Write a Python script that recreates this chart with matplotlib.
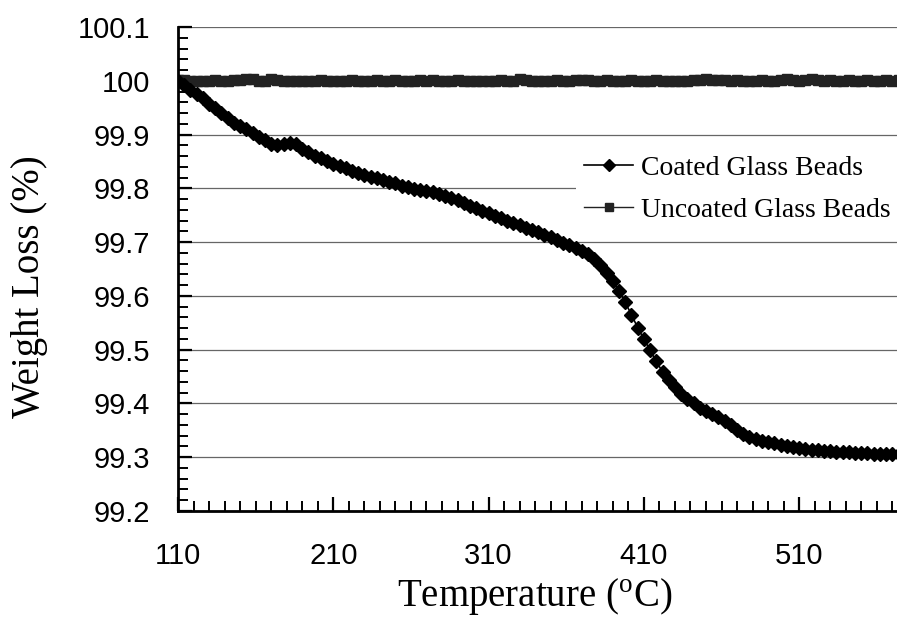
import matplotlib
matplotlib.use("Agg")
import matplotlib.pyplot as plt
from matplotlib.ticker import MultipleLocator, FixedLocator

# ---- data ----
temperature = list(range(110, 578, 4))

coated = [
    100.000, 99.992, 99.983, 99.976, 99.968, 99.957, 99.949, 99.940, 99.930, 99.922,
    99.916, 99.910, 99.903, 99.896, 99.889, 99.882, 99.881, 99.883, 99.884, 99.883,
    99.874, 99.867, 99.861, 99.857, 99.851, 99.845, 99.841, 99.837, 99.832, 99.828,
    99.825, 99.822, 99.819, 99.816, 99.812, 99.809, 99.805, 99.802, 99.799, 99.797,
    99.795, 99.793, 99.790, 99.786, 99.782, 99.778, 99.773, 99.768, 99.763, 99.758,
    99.754, 99.749, 99.744, 99.739, 99.735, 99.731, 99.726, 99.722, 99.718, 99.714,
    99.709, 99.704, 99.699, 99.694, 99.689, 99.684, 99.677, 99.668, 99.657, 99.643,
    99.627, 99.609, 99.588, 99.565, 99.541, 99.520, 99.499, 99.478, 99.459, 99.443,
    99.430, 99.418, 99.408, 99.400, 99.392, 99.386, 99.380, 99.374, 99.368, 99.360,
    99.351, 99.344, 99.338, 99.333, 99.330, 99.328, 99.326, 99.323, 99.321, 99.319,
    99.317, 99.316, 99.314, 99.313, 99.312, 99.311, 99.310, 99.309, 99.309, 99.308,
    99.307, 99.307, 99.306, 99.306, 99.306, 99.306, 99.306,
]

uncoated = [
    100.001, 100.001, 100.000, 100.000, 100.000, 100.000, 100.001, 100.000, 100.000, 100.001,
    100.001, 100.004, 100.003, 100.000, 99.999, 100.004, 100.001, 99.999, 99.999, 100.000,
    100.000, 100.000, 100.000, 100.001, 100.000, 100.000, 99.999, 100.000, 100.001, 100.000,
    100.000, 100.000, 100.001, 100.000, 100.000, 100.001, 100.000, 100.000, 100.000, 100.001,
    100.000, 100.001, 100.000, 100.000, 100.000, 100.001, 100.000, 100.000, 100.000, 100.000,
    100.000, 100.000, 100.001, 100.000, 100.000, 100.003, 100.001, 100.000, 100.000, 100.000,
    100.000, 100.001, 100.000, 100.000, 100.002, 100.001, 100.002, 100.000, 100.000, 100.001,
    100.000, 100.000, 100.000, 100.001, 100.000, 100.000, 100.000, 100.001, 100.000, 100.000,
    100.000, 100.000, 100.000, 100.001, 100.002, 100.003, 100.002, 100.001, 100.002, 100.000,
    100.001, 100.000, 100.000, 100.000, 100.001, 100.000, 100.000, 100.001, 100.003, 100.001,
    100.000, 100.001, 100.003, 100.002, 100.000, 100.001, 100.000, 100.000, 100.001, 100.000,
    100.000, 100.001, 100.000, 100.000, 100.001, 100.000, 100.001,
]

x_major_ticks = [110, 210, 310, 410, 510]
y_ticks = [99.2, 99.3, 99.4, 99.5, 99.6, 99.7, 99.8, 99.9, 100.0, 100.1]
y_tick_labels = ["99.2", "99.3", "99.4", "99.5", "99.6", "99.7", "99.8", "99.9", "100", "100.1"]

plt.rcParams['mathtext.fontset'] = 'custom'
plt.rcParams['mathtext.rm'] = 'Liberation Serif'

W, H = 897, 619
fig = plt.figure(figsize=(W / 100, H / 100), dpi=100)
ax = fig.add_axes([178 / W, 1 - 511 / H, (W - 178) / W, (511 - 27) / H])

ax.plot(temperature, uncoated, color='#222222', lw=1.0, marker='s', markersize=7,
        markerfacecolor='#222222', markeredgecolor='#222222', label='Uncoated Glass Beads', zorder=3)
ax.plot(temperature, coated, color='black', lw=1.2, marker='D', markersize=7.5,
        markerfacecolor='black', markeredgecolor='black', label='Coated Glass Beads', zorder=4)

ax.set_xlim(110, 573)
ax.set_ylim(99.2, 100.1)

ax.xaxis.set_major_locator(FixedLocator(x_major_ticks))
ax.xaxis.set_minor_locator(MultipleLocator(10))
ax.set_yticks(y_ticks)
ax.set_yticklabels(y_tick_labels)
ax.yaxis.set_minor_locator(MultipleLocator(0.02))

for lab in ax.get_xticklabels() + ax.get_yticklabels():
    lab.set_fontfamily('Liberation Sans')
    lab.set_fontsize(21)

ax.tick_params(axis='both', which='major', direction='in', length=10, width=1.6, color='black')
ax.tick_params(axis='both', which='minor', direction='in', length=7, width=1.4, color='black')
ax.tick_params(axis='x', which='major', pad=22)
ax.tick_params(axis='y', which='major', pad=20)

ax.grid(True, axis='y', which='major', color='#666666', lw=0.9)
ax.set_axisbelow(True)

for s in ['top', 'right']:
    ax.spines[s].set_visible(False)
for s in ['left', 'bottom']:
    ax.spines[s].set_linewidth(2.0)
    ax.spines[s].set_color('black')

handles, labels = ax.get_legend_handles_labels()
leg = ax.legend(handles[::-1], labels[::-1], loc='upper left',
                bbox_to_anchor=((562 - 178) / (W - 178), (511 - 133) / 484),
                frameon=True, fancybox=False, framealpha=1.0, edgecolor='white',
                prop={'family': 'Liberation Serif', 'size': 20},
                handlelength=1.75, handletextpad=0.3, labelspacing=0.6,
                borderpad=0.3, markerscale=0.75)
leg.get_frame().set_linewidth(0)

fig.text(535 / W, 1 - 597 / H, r'Temperature ($^{\rm o}$C)', ha='center', va='center',
         fontfamily='Liberation Serif', fontsize=28)
fig.text(30 / W, 1 - 287 / H, 'Weight Loss (%)', ha='center', va='center', rotation=90,
         fontfamily='Liberation Serif', fontsize=28)

fig.savefig('out.png', dpi=100)
